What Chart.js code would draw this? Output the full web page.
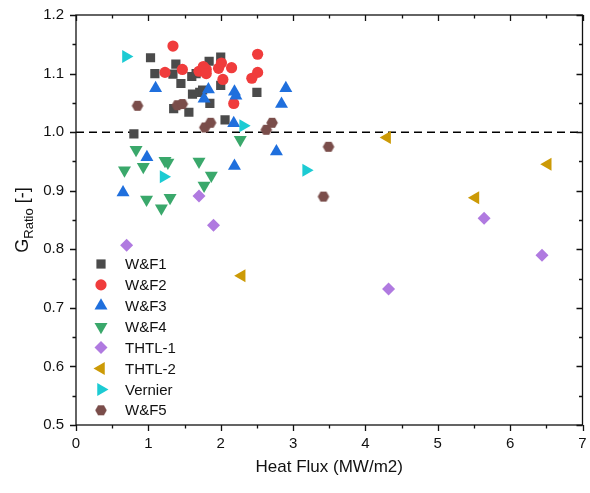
<!DOCTYPE html>
<html>
<head>
<meta charset="utf-8">
<script src="https://cdn.jsdelivr.net/npm/chart.js@4/dist/chart.umd.min.js"></script>
<style>
  html, body { margin: 0; padding: 0; background: #fff; }
  #wrap { width: 590px; height: 493px; position: relative; }
</style>
</head>
<body>
<div id="wrap"><canvas id="chart" width="590" height="493"></canvas></div>
<script>
// donnees : [heat flux, G ratio]
const wf1 = [[0.80,0.997],[1.03,1.127],[1.09,1.100],[1.34,1.099],[1.38,1.116],[1.45,1.083],
  [1.60,1.095],[1.61,1.065],[1.71,1.068],[1.35,1.040],[1.56,1.034],[1.84,1.121],[2.00,1.128],
  [2.00,1.080],[1.85,1.049],[1.75,1.072],[2.50,1.068],[2.06,1.021],[1.66,1.100]];
const wf2 = [[1.34,1.147],[1.23,1.102],[1.47,1.107],[1.70,1.104],[1.76,1.112],[1.80,1.107],
  [1.80,1.100],[1.97,1.109],[2.01,1.118],[2.15,1.110],[2.03,1.090],[2.51,1.133],[2.51,1.102],
  [2.43,1.092],[2.18,1.049]];
const wf3 = [[1.10,1.075],[1.83,1.073],[1.77,1.057],[2.19,1.069],[2.21,1.062],[2.90,1.075],
  [2.84,1.048],[2.18,1.015],[0.98,0.957],[2.77,0.967],[2.19,0.942],[0.65,0.897]];
const wf4 = [[0.83,0.970],[0.67,0.935],[0.93,0.941],[1.23,0.951],[1.27,0.948],[1.70,0.950],
  [1.87,0.926],[1.77,0.909],[0.975,0.885],[1.30,0.888],[1.18,0.870],[2.27,0.987]];
const thtl1 = [[0.70,0.807],[1.70,0.891],[1.90,0.841],[4.32,0.732],[5.64,0.853],[6.44,0.790]];
const thtl2 = [[2.29,0.755],[4.30,0.991],[5.52,0.888],[6.52,0.945]];
const vernier = [[0.69,1.129],[1.21,0.924],[2.31,1.011],[3.18,0.935]];
const wf5 = [[0.85,1.045],[1.40,1.046],[1.47,1.048],[1.78,1.008],[1.86,1.016],[2.63,1.004],
  [2.71,1.016],[3.42,0.890],[3.49,0.975]];

const seriesNames = ['W&F1', 'W&F2', 'W&F3', 'W&F4', 'THTL-1', 'THTL-2', 'Vernier', 'W&F5'];
const seriesData = [wf1, wf2, wf3, wf4, thtl1, thtl2, vernier, wf5];
const seriesColors = ['#4b4b4b', '#f03c3c', '#1f6fdd', '#3aa86b', '#b07ae0', '#cc9a06', '#1ccbd3', '#7a4d4a'];
const xRange = [0, 7];
const yRange = [0.5, 1.2];

// hexagone pour W&F5 (pas dispo dans chart.js)
function hexagone(color, r) {
    const c = document.createElement('canvas');
    c.width = c.height = Math.ceil(2 * r + 2);
    const g = c.getContext('2d');
    g.fillStyle = color;
    g.beginPath();
    for (let i = 0; i < 6; i++) {
        const a = Math.PI / 3 * i;
        g.lineTo(c.width / 2 + r * Math.cos(a), c.height / 2 + r * Math.sin(a));
    }
    g.closePath();
    g.fill();
    return c;
}

const styles = [
    { pointStyle: 'rect', rotation: 0, radius: 6.5 },
    { pointStyle: 'circle', rotation: 0, radius: 5.6 },
    { pointStyle: 'triangle', rotation: 0, radius: 7.5 },
    { pointStyle: 'triangle', rotation: 180, radius: 7.5 },
    { pointStyle: 'rectRot', rotation: 0, radius: 6.5 },
    { pointStyle: 'triangle', rotation: 270, radius: 7.5 },
    { pointStyle: 'triangle', rotation: 90, radius: 7.5 },
    { pointStyle: hexagone(seriesColors[7], 5.8), rotation: 0, radius: 6 }
];

let datasets = seriesData.map(function (pts, i) {
    return {
        label: seriesNames[i],
        data: pts.map(p => ({ x: p[0], y: p[1] })),
        pointStyle: styles[i].pointStyle,
        rotation: styles[i].rotation,
        pointRadius: styles[i].radius,
        pointBackgroundColor: seriesColors[i],
        pointBorderWidth: 0,
        borderColor: seriesColors[i],
        showLine: false,
        order: 10 - i
    };
});
// ligne pointillee a G = 1
datasets.push({
    label: 'ref',
    type: 'line',
    data: [{ x: xRange[0], y: 1 }, { x: xRange[1], y: 1 }],
    borderColor: '#000',
    borderWidth: 1.5,
    borderDash: [8, 5],
    pointRadius: 0,
    order: 100
});

const fontFam = 'Arial, "Liberation Sans", sans-serif';

// cadre, petites graduations, legende et titre Y
const cadre = {
    id: 'cadre',
    afterDraw(chart) {
        const ctx = chart.ctx;
        const a = chart.chartArea;
        const xs = chart.scales.x, ys = chart.scales.y;
        ctx.save();
        ctx.strokeStyle = '#111';
        ctx.lineWidth = 1.3;
        ctx.strokeRect(a.left, a.top, a.right - a.left, a.bottom - a.top);
        ctx.beginPath();
        for (let v = xRange[0]; v <= xRange[1] + 1e-9; v += 0.5) {
            const px = Math.round(xs.getPixelForValue(v)) + 0.5;
            const major = Math.abs(v - Math.round(v)) < 1e-6;
            const len = major ? 6 : 3.5;
            ctx.moveTo(px, a.bottom); ctx.lineTo(px, a.bottom + len);
            ctx.moveTo(px, a.top); ctx.lineTo(px, a.top + len);
        }
        for (let k = 0; k <= 14; k++) {
            const v = yRange[0] + k * 0.05;
            const py = Math.round(ys.getPixelForValue(v)) + 0.5;
            const len = k % 2 === 0 ? 6 : 3.5;
            ctx.moveTo(a.left, py); ctx.lineTo(a.left - len, py);
            ctx.moveTo(a.right, py); ctx.lineTo(a.right - len, py);
        }
        ctx.stroke();

        // titre axe Y avec indice
        ctx.fillStyle = '#111';
        ctx.translate(28, (a.top + a.bottom) / 2);
        ctx.rotate(-Math.PI / 2);
        ctx.textBaseline = 'alphabetic';
        ctx.font = '18px ' + fontFam;
        const wG = ctx.measureText('G').width;
        ctx.font = '13px ' + fontFam;
        const wR = ctx.measureText('Ratio').width;
        ctx.font = '18px ' + fontFam;
        const wB = ctx.measureText(' [-]').width;
        let x0 = -(wG + wR + wB) / 2;
        ctx.textAlign = 'left';
        ctx.fillText('G', x0, 0);
        ctx.font = '13px ' + fontFam;
        ctx.fillText('Ratio', x0 + wG, 5);
        ctx.font = '18px ' + fontFam;
        ctx.fillText(' [-]', x0 + wG + wR, 0);
        ctx.restore();

        // legende
        ctx.save();
        ctx.font = '15px ' + fontFam;
        ctx.textBaseline = 'middle';
        ctx.fillStyle = '#111';
        for (let i = 0; i < seriesNames.length; i++) {
            const ly = 264 + i * 20.9;
            const st = styles[i];
            ctx.fillStyle = seriesColors[i];
            Chart.helpers.drawPoint(ctx, {
                pointStyle: st.pointStyle, rotation: st.rotation,
                radius: st.radius, borderWidth: 0
            }, 101, ly);
            ctx.fillStyle = '#111';
            ctx.fillText(seriesNames[i], 125, ly + 1);
        }
        ctx.restore();
    }
};

new Chart(document.getElementById('chart'), {
    type: 'scatter',
    data: { datasets: datasets },
    options: {
        responsive: false,
        animation: false,
        devicePixelRatio: 1,
        layout: { padding: { left: 0, top: 15, right: 7, bottom: 0 } },
        plugins: { legend: { display: false }, tooltip: { enabled: false } },
        scales: {
            x: {
                type: 'linear', min: xRange[0], max: xRange[1],
                afterFit: function (s) { s.height = 68; s.paddingLeft = 0; s.paddingRight = 0; },
                grid: { display: false, drawTicks: false },
                border: { display: false },
                ticks: { stepSize: 1, padding: 10, color: '#111', font: { size: 15, family: fontFam } },
                title: { display: true, text: 'Heat Flux (MW/m2)', color: '#111', padding: { top: 0, bottom: 15 },
                         font: { size: 17, family: fontFam } }
            },
            y: {
                type: 'linear', min: yRange[0], max: yRange[1],
                afterFit: function (s) { s.width = 76; s.paddingTop = 0; s.paddingBottom = 0; },
                grid: { display: false, drawTicks: false },
                border: { display: false },
                ticks: { stepSize: 0.1, padding: 12, color: '#111', font: { size: 15, family: fontFam },
                         callback: v => v.toFixed(1) }
            }
        }
    },
    plugins: [cadre]
});
</script>
</body>
</html>
